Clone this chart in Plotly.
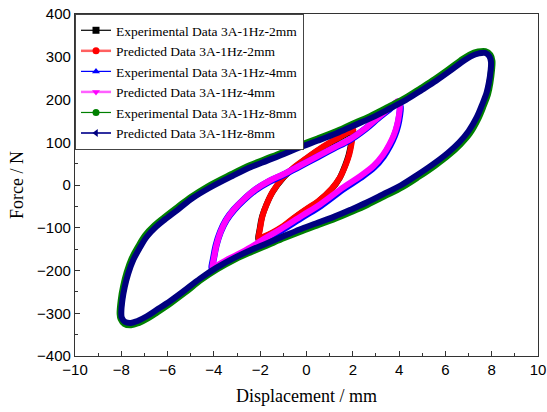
import plotly.graph_objects as go

# ---- 2 mm amplitude loop (x in mm, force in N), upper branch then lower branch ----
exp_2mm_x = [-2.07, -2.02, -1.92, -1.74, -1.47, -1.02, -0.52, -0.02, 0.48, 0.98, 1.38, 1.68, 1.89, 2.0,
             1.97, 1.92, 1.82, 1.67, 1.43, 1.08, 0.48, -0.02, -0.52, -1.02, -1.52, -1.87, -2.07]
exp_2mm_y = [-128, -102, -74, -47, -17, 16, 41, 61, 80, 97, 109, 118, 125, 128,
             118, 96, 70, 46, 16, -10, -40, -58, -77, -98, -114, -123, -128]
pred_2mm_x = [-2.05, -2.0, -1.9, -1.72, -1.45, -1.0, -0.5, 0.0, 0.5, 1.0, 1.4, 1.7, 1.9, 2.02,
              2.0, 1.95, 1.85, 1.7, 1.45, 1.1, 0.5, 0.0, -0.5, -1.0, -1.5, -1.85, -2.05]
pred_2mm_y = [-126, -100, -72, -45, -15, 18, 43, 63, 82, 99, 111, 120, 126, 129,
              120, 98, 72, 48, 18, -8, -38, -56, -75, -96, -112, -121, -126]

# ---- 4 mm amplitude loop ----
exp_4mm_x = [-4.07, -4.0, -3.9, -3.72, -3.47, -3.12, -2.72, -2.22, -1.62, -1.02, -0.32, 0.48, 1.18, 1.88, 2.58, 3.08, 3.5, 3.8, 3.97,
             4.05, 4.02, 3.94, 3.8, 3.6, 3.32, 2.92, 2.32, 1.62, 0.62, -0.18, -1.08, -1.78, -2.38, -2.98, -3.48, -3.85, -4.07]
exp_4mm_y = [-197, -167, -140, -110, -82, -57, -35, -12, 8, 23, 43, 66, 86, 106, 133, 156, 174, 188, 194,
             183, 162, 139, 115, 92, 67, 42, 17, -8, -48, -75, -106, -128, -148, -166, -180, -191, -197]
pred_4mm_x = [-4.05, -3.98, -3.88, -3.7, -3.45, -3.1, -2.7, -2.2, -1.6, -1.0, -0.3, 0.5, 1.2, 1.9, 2.6, 3.1, 3.5, 3.8, 3.95,
              4.03, 4.0, 3.92, 3.78, 3.58, 3.3, 2.9, 2.3, 1.6, 0.6, -0.2, -1.1, -1.8, -2.4, -3.0, -3.5, -3.85, -4.05]
pred_4mm_y = [-195, -165, -138, -108, -80, -55, -33, -10, 10, 25, 45, 68, 88, 108, 135, 158, 176, 190, 196,
              185, 165, 142, 118, 95, 70, 45, 20, -5, -45, -72, -103, -125, -145, -163, -177, -188, -195]

# ---- 8 mm amplitude loop ----
exp_8mm_x = [-8.05, -8.0, -7.9, -7.75, -7.53, -7.25, -6.95, -6.55, -6.15, -5.55, -4.95, -4.25, -3.25, -2.45, -1.75, -1.05, -0.35, 0.45, 1.25, 1.95, 2.75, 3.55, 4.25, 4.95, 5.55, 6.15, 6.65, 7.05, 7.42, 7.72, 7.93, 8.01,
             7.99, 7.92, 7.82, 7.64, 7.39, 7.04, 6.64, 6.14, 5.54, 4.84, 4.14, 3.34, 2.64, 1.94, 1.24, 0.44, -0.26, -0.96, -1.66, -2.36, -3.06, -3.86, -4.56, -5.26, -5.86, -6.46, -6.86, -7.26, -7.58, -7.86, -8.01, -8.05]
exp_8mm_y = [-302, -268, -237, -205, -172, -144, -118, -95, -77, -52, -28, -4, 24, 45, 60, 75, 91, 107, 124, 141, 160, 182, 202, 226, 247, 270, 290, 304, 311, 312, 304, 290,
             268, 238, 212, 186, 154, 121, 96, 71, 46, 20, -4, -26, -45, -62, -78, -94, -108, -123, -139, -155, -172, -196, -221, -251, -275, -297, -311, -322, -327, -324, -313, -302]
pred_8mm_x = [-8.0, -7.95, -7.85, -7.7, -7.48, -7.2, -6.9, -6.5, -6.1, -5.5, -4.9, -4.2, -3.2, -2.4, -1.7, -1.0, -0.3, 0.5, 1.3, 2.0, 2.8, 3.6, 4.3, 5.0, 5.6, 6.2, 6.7, 7.1, 7.45, 7.72, 7.9, 7.97,
              7.95, 7.88, 7.78, 7.6, 7.35, 7.0, 6.6, 6.1, 5.5, 4.8, 4.1, 3.3, 2.6, 1.9, 1.2, 0.4, -0.3, -1.0, -1.7, -2.4, -3.1, -3.9, -4.6, -5.3, -5.9, -6.5, -6.9, -7.3, -7.6, -7.85, -7.98, -8.0]
pred_8mm_y = [-300, -268, -238, -207, -175, -147, -121, -98, -80, -55, -30, -7, 21, 42, 57, 72, 88, 104, 121, 138, 157, 179, 199, 223, 244, 267, 287, 301, 308, 309, 301, 288,
              266, 240, 216, 190, 158, 126, 100, 75, 50, 24, 0, -22, -41, -58, -74, -90, -104, -120, -136, -152, -170, -194, -219, -248, -272, -293, -307, -318, -323, -320, -310, -300]

series_names = [
    "Experimental Data 3A-1Hz-2mm",
    "Predicted Data 3A-1Hz-2mm",
    "Experimental Data 3A-1Hz-4mm",
    "Predicted Data 3A-1Hz-4mm",
    "Experimental Data 3A-1Hz-8mm",
    "Predicted Data 3A-1Hz-8mm",
]
series_x = [exp_2mm_x, pred_2mm_x, exp_4mm_x, pred_4mm_x, exp_8mm_x, pred_8mm_x]
series_y = [exp_2mm_y, pred_2mm_y, exp_4mm_y, pred_4mm_y, exp_8mm_y, pred_8mm_y]

colors = ["#000000", "#ff0000", "#0000ff", "#ff00ff", "#008000", "#000080"]
symbols = ["square", "circle", "triangle-up", "triangle-down", "circle", "triangle-left"]
band_widths = [6, 6, 7, 6, 7, 6]
legend_line_widths = [1.2, 2.5, 1.2, 2.5, 1.2, 2]
legend_line_colors = ["#000000", "#ff6060", "#0000ff", "#ff60ff", "#008000", "#3030a0"]

fig = go.Figure()

# loops drawn as thick smoothed bands
for name, xs, ys, c, w in zip(series_names, series_x, series_y, colors, band_widths):
    fig.add_trace(go.Scatter(
        x=xs, y=ys, mode="lines", name=name, legendgroup=name, showlegend=False,
        line=dict(color=c, width=w, shape="spline", smoothing=1.0),
        hoverinfo="x+y",
    ))

# legend entries with line + marker symbol
for name, c, s, lw, lc in zip(series_names, colors, symbols, legend_line_widths, legend_line_colors):
    fig.add_trace(go.Scatter(
        x=[None], y=[None], mode="lines+markers", name=name, legendgroup=name,
        line=dict(color=lc, width=lw),
        marker=dict(color=c, symbol=s, size=7),
    ))

axis_common = dict(
    showline=True, linecolor="#333333", linewidth=1.2, mirror=True,
    ticks="inside", ticklen=5, tickwidth=1, tickcolor="#333333",
    showgrid=False, zeroline=False, automargin=False,
    tickfont=dict(family="Liberation Sans, Arial, sans-serif", size=15, color="#000000"),
)

fig.update_xaxes(
    range=[-10, 10], dtick=2, tick0=-10,
    minor=dict(ticks="inside", ticklen=3, dtick=1, tickcolor="#333333"),
    title=dict(text="Displacement / mm", font=dict(family="Liberation Serif, Times New Roman, serif", size=18, color="#000000"), standoff=12),
    **axis_common,
)
fig.update_yaxes(
    range=[-400, 400], dtick=100, tick0=-400,
    minor=dict(ticks="inside", ticklen=3, dtick=50, tickcolor="#333333"),
    title=dict(text="Force / N", font=dict(family="Liberation Serif, Times New Roman, serif", size=18, color="#000000"), standoff=8),
    **axis_common,
)

fig.update_layout(
    width=547, height=412,
    margin=dict(l=75, r=9, t=14, b=56),
    paper_bgcolor="white", plot_bgcolor="white",
    showlegend=True,
    legend=dict(
        x=0, y=1, xanchor="left", yanchor="top",
        bgcolor="white", bordercolor="#444444", borderwidth=1,
        font=dict(family="Liberation Serif, Times New Roman, serif", size=13.5, color="#000000"),
        tracegroupgap=0, itemwidth=30,
    ),
)

fig.write_html("out.html")
